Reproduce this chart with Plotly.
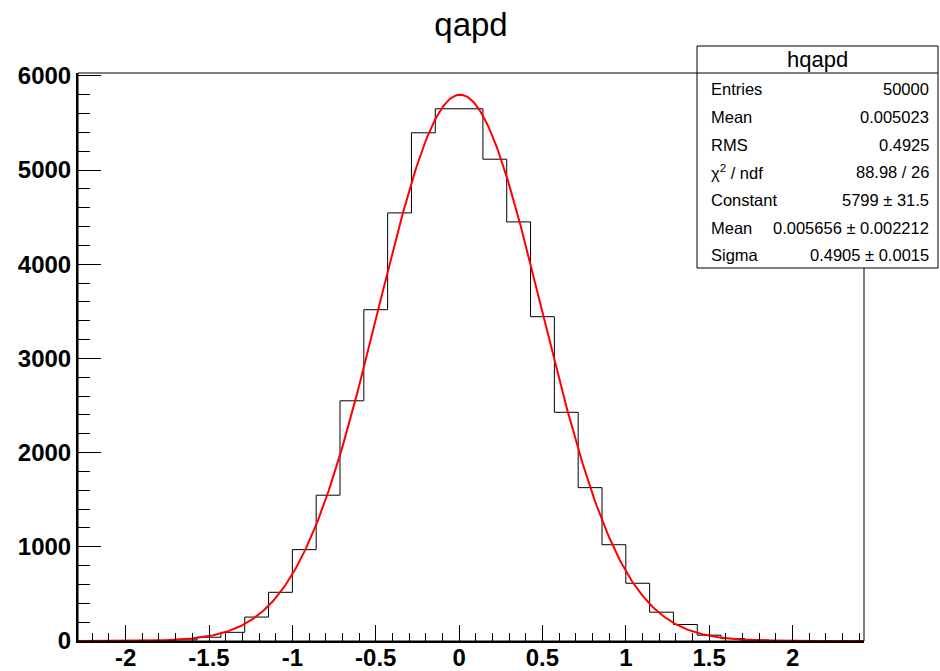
import numpy as np
import plotly.graph_objects as go

# ---------------- data ----------------
hist_name = "hqapd"
title_text = "qapd"
x_low = -16 / 7.0
bin_width = 1 / 7.0
counts = [0, 1, 2, 5, 12, 40, 92, 254, 517, 970, 1548, 2550, 3517, 4545, 5395,
          5650, 5650, 5115, 4449, 3443, 2428, 1628, 1022, 613, 306, 175, 62,
          25, 10, 4, 2, 1, 0]
fit_constant = 5799.0
fit_mean = 0.005656
fit_sigma = 0.4905

stat_labels = ["Entries", "Mean", "RMS", "χ<sup>2</sup> / ndf", "Constant", "Mean", "Sigma"]
stat_values = ["50000", "0.005023", "0.4925", "88.98 / 26", "5799 ± 31.5",
               "0.005656 ± 0.002212", "0.4905 ± 0.0015"]

x_tickvals = [-2, -1.5, -1, -0.5, 0, 0.5, 1, 1.5, 2]
x_ticktext = ["-2", "-1.5", "-1", "-0.5", "0", "0.5", "1", "1.5", "2"]
y_tickvals = [0, 1000, 2000, 3000, 4000, 5000, 6000]
y_ticktext = ["0", "1000", "2000", "3000", "4000", "5000", "6000"]

# ---------------- derived ----------------
nbins = len(counts)
edges = x_low + bin_width * np.arange(nbins + 1)
x_high = edges[-1]
step_y = counts + [counts[-1]]

xf = np.linspace(x_low, x_high, 600)
yf = fit_constant * np.exp(-0.5 * ((xf - fit_mean) / fit_sigma) ** 2)

W, H = 940, 671
L, R, T, B = 78, 864, 73, 641  # plot area in pixels


def px(xp):
    return (xp - L) / (R - L)


def py(yp):
    return (B - yp) / (B - T)


FONT = "Liberation Sans, Arial, Helvetica, sans-serif"

fig = go.Figure()
fig.add_trace(go.Scatter(x=edges, y=step_y, mode="lines", line_shape="hv",
                         line=dict(color="black", width=1), showlegend=False,
                         hoverinfo="skip"))
fig.add_trace(go.Scatter(x=xf, y=yf, mode="lines",
                         line=dict(color="#ff0000", width=2), showlegend=False,
                         hoverinfo="skip"))

axis_font = dict(family=FONT, size=24, color="black", weight="bold")

fig.update_xaxes(range=[x_low, x_high], showgrid=False, zeroline=False,
                 showline=True, linecolor="black", linewidth=2,
                 ticks="inside", ticklen=16, tickwidth=1, tickcolor="black",
                 tickvals=x_tickvals, ticktext=x_ticktext, tickfont=axis_font,
                 minor=dict(ticks="inside", dtick=0.1, tick0=0, ticklen=8,
                            tickwidth=1, tickcolor="black", showgrid=False),
                 ticklabelstandoff=-6, automargin=False)
fig.update_yaxes(range=[0, 6030], showgrid=False, zeroline=False,
                 showline=True, linecolor="black", linewidth=2,
                 ticks="inside", ticklen=23, tickwidth=1, tickcolor="black",
                 tickvals=y_tickvals, ticktext=y_ticktext, tickfont=axis_font,
                 minor=dict(ticks="inside", dtick=200, tick0=0, ticklen=12,
                            tickwidth=1, tickcolor="black", showgrid=False),
                 ticklabelstandoff=0, automargin=False)

shapes = [
    # frame
    dict(type="rect", xref="paper", yref="paper", x0=0, x1=1, y0=0, y1=1,
         line=dict(color="black", width=1), fillcolor="rgba(0,0,0,0)", layer="above"),
    # stats box
    dict(type="rect", xref="paper", yref="paper", x0=px(697), x1=px(938),
         y0=py(268), y1=py(46), line=dict(color="black", width=1),
         fillcolor="white", layer="above"),
    dict(type="line", xref="paper", yref="paper", x0=px(697), x1=px(938),
         y0=py(73), y1=py(73), line=dict(color="black", width=1), layer="above"),
]

annotations = [
    dict(text=hist_name, xref="paper", yref="paper", x=px(817.5), y=py(59.5),
         xanchor="center", yanchor="middle", showarrow=False,
         font=dict(family=FONT, size=22, color="black")),
]
row_y = [89, 117, 145, 172, 200, 228, 255]
for lab, val, yy in zip(stat_labels, stat_values, row_y):
    annotations.append(dict(text=lab, xref="paper", yref="paper", x=px(709), y=py(yy),
                            xanchor="left", yanchor="middle", showarrow=False,
                            font=dict(family=FONT, size=16.5, color="black")))
    annotations.append(dict(text=val, xref="paper", yref="paper", x=px(931), y=py(yy),
                            xanchor="right", yanchor="middle", showarrow=False,
                            font=dict(family=FONT, size=16.5, color="black")))

fig.update_layout(
    width=W, height=H, autosize=False,
    margin=dict(l=L, r=W - R, t=T, b=H - B, pad=0, autoexpand=False),
    paper_bgcolor="white", plot_bgcolor="white",
    title=dict(text=title_text, x=0.5, xref="paper", xanchor="center",
               y=1 - 24 / H, yref="container", yanchor="middle",
               font=dict(family=FONT, size=33, color="black")),
    shapes=shapes, annotations=annotations, showlegend=False,
)

fig.write_html("out.html")
